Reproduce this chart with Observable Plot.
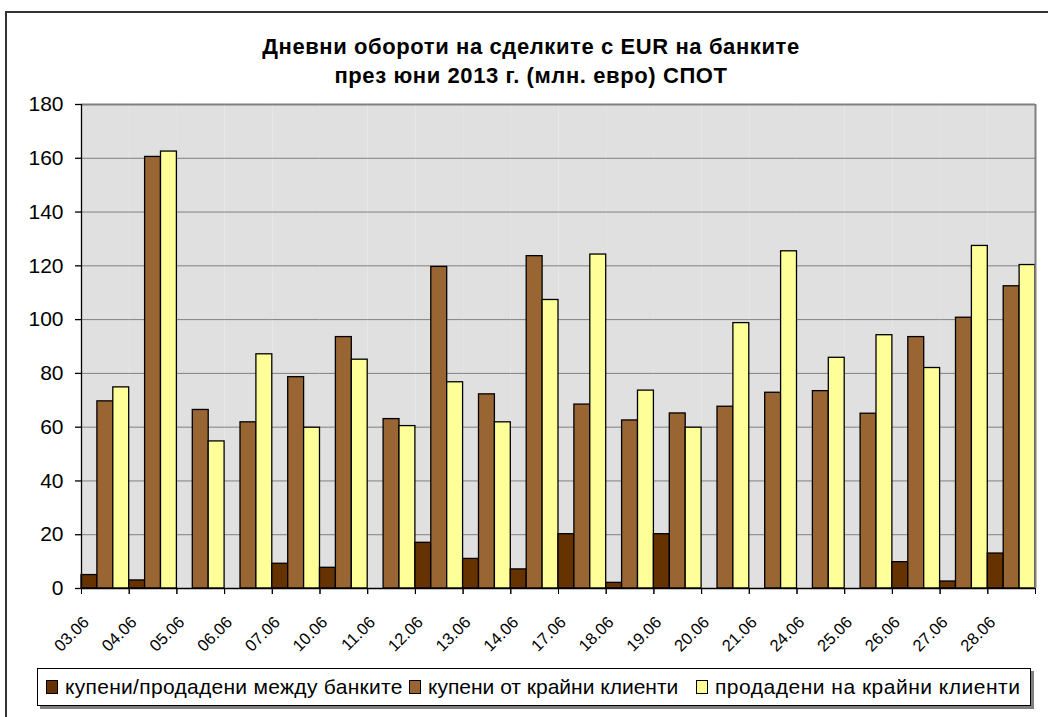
<!DOCTYPE html>
<html>
<head>
<meta charset="utf-8">
<script src="https://cdn.jsdelivr.net/npm/d3@7"></script>
<script src="https://cdn.jsdelivr.net/npm/@observablehq/plot@0.6"></script>
<style>
  body { margin: 0; background: #fff; width: 1048px; height: 717px; overflow: hidden; position: relative;
         font-family: Arial, "Liberation Sans", sans-serif; color: #000; }
  #frame { position: absolute; left: 5px; top: 11px; width: 1100px; height: 800px; border: 2px solid #333; box-sizing: border-box; }
  #title { position: absolute; left: 0; width: 1062px; top: 32px; text-align: center; font-weight: bold;
           font-size: 22px; letter-spacing: 0.6px; line-height: 29px; }
  #chart { position: absolute; left: 0; top: 90px; }
  #chart svg { overflow: visible; }
  #legend { position: absolute; left: 37px; top: 668px; width: 994px; height: 38px; box-sizing: border-box;
            border: 1px solid #000; box-shadow: 3px 3px 0 #808080; background: #fff; font-size: 21px; }
  .item { position: absolute; top: 0; height: 36px; display: flex; align-items: center; white-space: nowrap; }
  .sw { width: 10px; height: 12px; border: 1px solid #000; margin-right: 7px; }
</style>
</head>
<body>
<div id="frame"></div>
<div id="title">Дневни обороти на сделките с EUR на банките<br>през юни 2013 г. (млн. евро) СПОТ</div>
<div id="chart"></div>
<div id="legend"></div>
<script>
const dates = ["03.06","04.06","05.06","06.06","07.06","10.06","11.06","12.06","13.06","14.06",
               "17.06","18.06","19.06","20.06","21.06","24.06","25.06","26.06","27.06","28.06"];
const seriesNames = ["купени/продадени между банките", "купени от крайни клиенти", "продадени на крайни клиенти"];
const interbank     = [5, 3, 0, 0, 9.2, 7.7, 0, 17, 11, 7.1, 20.2, 2.1, 20.2, 0, 0, 0, 0, 9.8, 2.6, 13];
const boughtClients = [69.6, 160.5, 66.4, 61.8, 78.6, 93.5, 63, 119.6, 72.2, 123.6, 68.4, 62.5, 65.1, 67.6, 72.8, 73.4, 65, 93.5, 100.7, 112.4];
const soldClients   = [74.8, 162.5, 54.7, 87.1, 59.8, 85.1, 60.4, 76.7, 61.8, 107.3, 124.2, 73.6, 59.8, 98.7, 125.4, 85.8, 94.2, 82, 127.4, 120.3];
const colors = ["#663300", "#996633", "#ffff99"];
const yTicks = [0, 20, 40, 60, 80, 100, 120, 140, 160, 180];
const legendLeft = [8, 371, 658];
const legendSpacing = [0.3, 0, 0.5];

const seriesValues = [interbank, boughtClients, soldClients];
const rows = [];
dates.forEach((d, i) => seriesValues.forEach((arr, j) => {
  if (arr[i] > 0) rows.push({date: d, series: seriesNames[j], value: arr[i]});
}));

const W = 1048, H = 578, mL = 81, mR = 13, mT = 14, mB = 80;
const facetW = (W - mL - mR) / dates.length;
const bw = facetW / seriesNames.length;

const chart = Plot.plot({
  width: W, height: H,
  marginLeft: mL, marginRight: mR, marginTop: mT, marginBottom: mB,
  style: {fontFamily: 'Arial, "Liberation Sans", sans-serif', color: "#000", background: "transparent", overflow: "visible"},
  fx: {domain: dates, padding: 0, round: false, label: null},
  x: {domain: seriesNames, padding: 0, round: false, axis: null},
  y: {domain: [0, 180], label: null},
  color: {domain: seriesNames, range: colors},
  marks: [
    Plot.frame({fill: "#e0e0e0", stroke: "none"}),
    Plot.gridY(yTicks, {stroke: "#808080", strokeOpacity: 1, strokeWidth: 1}),
    Plot.ruleY([180], {stroke: "#808080", strokeWidth: 2}),
    Plot.barY(rows, {fx: "date", x: "series", y: "value", fill: "series", stroke: "#000", strokeWidth: 1.3}),
    Plot.ruleY([0], {stroke: "#000", strokeWidth: 1.3}),
    Plot.ruleX([{date: dates[0]}], {fx: "date", x: () => seriesNames[0], dx: -bw / 2, y1: 0, y2: 180, stroke: "#000", strokeWidth: 1.3}),
    Plot.ruleX([{date: dates[dates.length - 1]}], {fx: "date", x: () => seriesNames[2], dx: bw / 2, y1: 0, y2: 180, stroke: "#808080", strokeWidth: 2}),
    Plot.axisY(yTicks, {anchor: "left", tickSize: 6, tickPadding: 12, fontSize: 21, stroke: "#000", strokeWidth: 1.3, label: null}),
    Plot.axisFx({anchor: "bottom", tickSize: 6, tickFormat: () => "", dx: -facetW / 2, stroke: "#000", label: null}),
    Plot.axisFx([dates[dates.length - 1]], {anchor: "bottom", tickSize: 6, tickFormat: () => "", dx: facetW / 2, stroke: "#000", label: null}),
    Plot.text(dates, {fx: d => d, text: d => d, frameAnchor: "bottom", rotate: -45, textAnchor: "end", lineAnchor: "middle",
                      dx: -19, dy: 31, fontSize: 16.5, fill: "#000"})
  ]
});
document.getElementById("chart").appendChild(chart);

const legend = document.getElementById("legend");
seriesNames.forEach((name, i) => {
  const it = document.createElement("div");
  it.className = "item";
  it.style.left = legendLeft[i] + "px";
  it.style.letterSpacing = legendSpacing[i] + "px";
  const sw = document.createElement("span");
  sw.className = "sw";
  sw.style.background = colors[i];
  const tx = document.createElement("span");
  tx.textContent = name;
  it.appendChild(sw); it.appendChild(tx);
  legend.appendChild(it);
});
</script>
</body>
</html>
